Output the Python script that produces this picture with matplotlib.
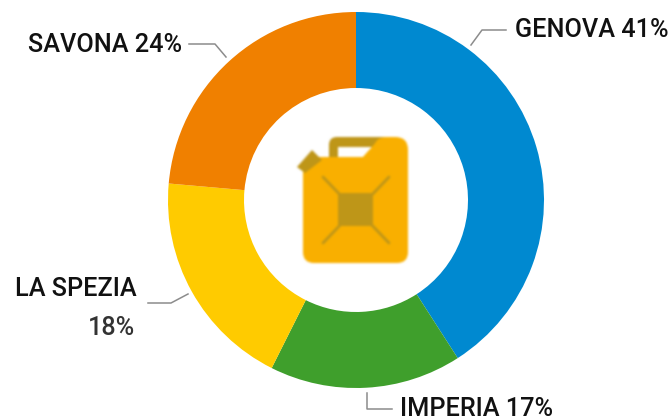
import numpy as np
import matplotlib
matplotlib.use('Agg')
import matplotlib.pyplot as plt
from matplotlib.patches import Polygon, FancyBboxPatch, Rectangle

provinces = ['GENOVA', 'IMPERIA', 'LA SPEZIA', 'SAVONA']
shares = [40.9, 16.5, 19.0, 23.6]
colors = ['#0089D0', '#3F9F2C', '#FFCB00', '#F08000']

plt.rcParams['font.family'] = 'Roboto'

W, H = 671, 419
BODY = '#F9B000'
DARK = '#BF9619'


def rounded(x0, y0, x1, y1, r, color):
    return FancyBboxPatch((x0 + r, y0 + r), x1 - x0 - 2 * r, y1 - y0 - 2 * r,
                          boxstyle=f'round,pad={r},rounding_size={r}', fc=color, ec='none')


def draw_icon(ax):
    # handle and its window
    ax.add_patch(rounded(329, 137, 392, 170, 8, DARK))
    ax.add_patch(Polygon([(338, 147), (382, 147), (365, 158), (338, 158)], fc='white', ec='none'))
    # body with the sloped shoulder
    ax.add_patch(rounded(303, 157, 408, 263, 11, BODY))
    ax.add_patch(rounded(374, 137, 408, 185, 13, BODY))
    ax.add_patch(Polygon([(362, 158), (378, 140), (392, 137), (392, 170), (362, 170)], fc=BODY, ec='none'))
    # cap
    ax.add_patch(Polygon([(297, 167), (312, 150), (322, 160), (305, 173)], fc=DARK, ec='none'))
    # X pattern
    for x0, y0, x1, y1 in [(323, 177, 345, 200), (389, 177, 367, 200),
                           (323, 243, 345, 220), (389, 243, 367, 220)]:
        ax.plot([x0, x1], [y0, y1], color=DARK, lw=2, solid_capstyle='round')
    ax.add_patch(Rectangle((338, 193), 35, 33, fc=DARK, ec='none'))


def blurred_icon():
    fig = plt.figure(figsize=(W / 100, H / 100), dpi=100)
    ax = fig.add_axes([0, 0, 1, 1])
    ax.set_xlim(0, W)
    ax.set_ylim(H, 0)
    ax.axis('off')
    draw_icon(ax)
    fig.canvas.draw()
    img = np.asarray(fig.canvas.buffer_rgba()).astype(float)[:, :, :3]
    plt.close(fig)
    kernel = np.array([1, 3, 4, 3, 1], dtype=float)
    kernel /= kernel.sum()
    for axis in (0, 1):
        img = np.apply_along_axis(lambda r: np.convolve(r, kernel, mode='same'), axis, img)
    return img[125:275, 285:420] / 255


fig = plt.figure(figsize=(W / 100, H / 100), dpi=100)
ax = fig.add_axes([0, 0, 1, 1])

ax.pie(shares, colors=colors, center=(356, 200), radius=188, startangle=-90, counterclock=True,
       wedgeprops={'width': 76, 'linewidth': 0})
ax.imshow(blurred_icon(), extent=(285, 420, 275, 125), zorder=5, interpolation='nearest')
ax.set_xlim(0, W)
ax.set_ylim(H, 0)
ax.set_aspect('equal')
ax.axis('off')

# leader lines
leaders = [([471, 482, 506], [45, 30, 30]),
           ([226, 215, 189], [57, 44, 44]),
           ([188, 171, 148], [294, 303, 303]),
           ([367, 367, 392], [393, 409, 409])]
for xs, ys in leaders:
    ax.plot(xs, ys, color='#8C8C8C', lw=1.1)

fs = 18.2
weight = 'medium'
ax.text(515, 37, 'GENOVA 41%', fontsize=fs, color='#111111', ha='left', va='baseline', weight=weight)
ax.text(28, 52, 'SAVONA 24%', fontsize=fs, color='#111111', ha='left', va='baseline', weight=weight)
ax.text(15, 296, 'LA SPEZIA', fontsize=fs, color='#111111', ha='left', va='baseline', weight=weight)
ax.text(135, 335, '18%', fontsize=fs, color='#333333', ha='right', va='baseline', weight=weight)
ax.text(400, 416.5, 'IMPERIA 17%', fontsize=fs, color='#111111', ha='left', va='baseline', weight=weight)

fig.savefig('out.png', dpi=100)
